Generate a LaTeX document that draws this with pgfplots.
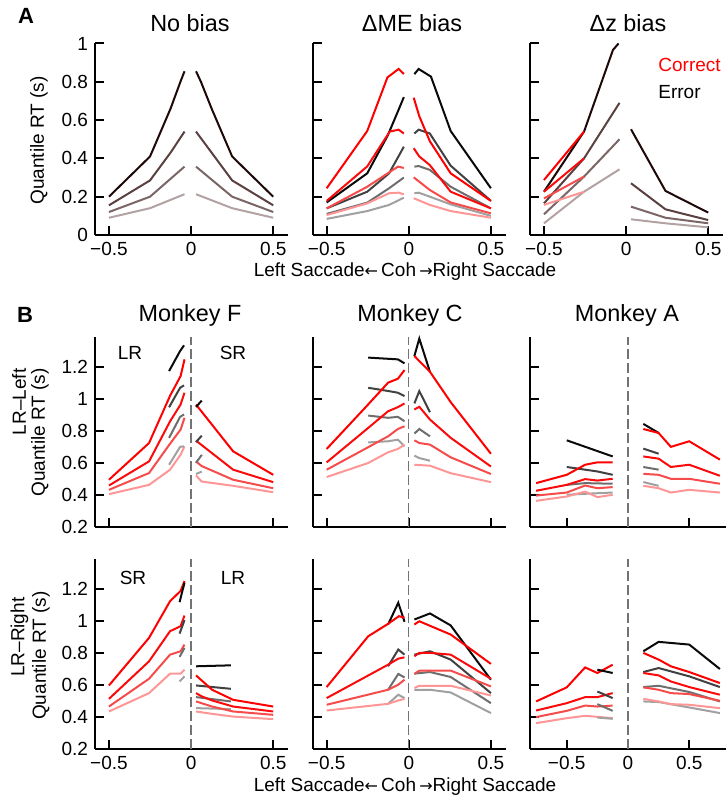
\documentclass[border=0pt]{standalone}
\usepackage{fontspec}
\setmainfont{Liberation Sans}
\newfontfamily\djv{DejaVu Sans}
\usepackage{pgfplots}
\pgfplotsset{compat=1.18}

\definecolor{bq4}{RGB}{30,8,8}
\definecolor{bq3}{RGB}{90,64,64}
\definecolor{bq2}{RGB}{122,102,102}
\definecolor{bq1}{RGB}{178,162,162}
\definecolor{kq4}{RGB}{10,10,10}
\definecolor{kq3}{RGB}{65,65,65}
\definecolor{kq2}{RGB}{110,110,110}
\definecolor{kq1}{RGB}{160,160,160}
\definecolor{rq4}{RGB}{255,0,0}
\definecolor{rq3}{RGB}{250,10,10}
\definecolor{rq2}{RGB}{245,75,75}
\definecolor{rq1}{RGB}{255,150,150}

\newcommand{\tlf}{\fontsize{9.5}{11}\selectfont}
\newcommand{\ttf}{\fontsize{11.7}{13}\selectfont}
\newcommand{\cohlabel}{Left Saccade{\djv\fontsize{8}{9}\selectfont←}\,Coh\,{\djv\fontsize{8}{9}\selectfont→}Right Saccade}

\pgfplotsset{
  panel/.style={scale only axis, axis lines*=left,
    axis line style={line width=1pt,-},
    tick style={line width=1pt,black}, tick align=inside,
    major tick length=4.5pt, tick label style={font=\tlf},
    clip=false, anchor=south west, width=96.5pt},
  Apanel/.style={panel, xmin=-0.585, xmax=0.59, ymin=0, ymax=1, height=95.75pt,
    xtick={-0.5,0,0.5}, xticklabels={−0.5,0,0.5},
    ytick={0,0.2,0.4,0.6,0.8,1}, yticklabels={}},
  Bpanel/.style={panel, xmin=-0.585, xmax=0.59, ymin=0.2, ymax=1.39, height=95pt,
    xtick={-0.5,0,0.5}, xticklabels={},
    ytick={0.2,0.4,0.6,0.8,1,1.2}, yticklabels={}},
  Mpanel/.style={Bpanel, xmin=-0.8, xmax=0.8, width=98pt},
  ylab/.style={yticklabels={0.2,0.4,0.6,0.8,1,1.2}},
  xlab/.style={xticklabels={−0.5,0,0.5}},
  ln/.style={line width=1pt},
  R4/.style={ln,rq4}, R3/.style={ln,rq3}, R2/.style={ln,rq2}, R1/.style={ln,rq1},
  K4/.style={ln,kq4}, K3/.style={ln,kq3}, K2/.style={ln,kq2}, K1/.style={ln,kq1},
  B4/.style={ln,bq4}, B3/.style={ln,bq3}, B2/.style={ln,bq2}, B1/.style={ln,bq1},
  dash0/.style={line width=0.7pt, black!55, dash pattern=on 5pt off 2pt},
}

\begin{document}
\begin{tikzpicture}

% ---------- row A ----------
\begin{axis}[Apanel, at={(47.5pt,282pt)}, yticklabels={0,0.2,0.4,0.6,0.8,1}]
\addplot[B1] coordinates {(-0.5,0.09)(-0.25,0.14)(-0.04,0.213)};
\addplot[B1] coordinates {(0.03,0.213)(0.25,0.14)(0.5,0.09)};
\addplot[B2] coordinates {(-0.5,0.12)(-0.25,0.20)(-0.04,0.357)};
\addplot[B2] coordinates {(0.03,0.357)(0.25,0.20)(0.5,0.12)};
\addplot[B3] coordinates {(-0.5,0.155)(-0.25,0.285)(-0.125,0.43)(-0.04,0.54)};
\addplot[B3] coordinates {(0.03,0.54)(0.125,0.43)(0.25,0.285)(0.5,0.155)};
\addplot[B4] coordinates {(-0.5,0.20)(-0.25,0.41)(-0.125,0.66)(-0.065,0.80)(-0.04,0.855)};
\addplot[B4] coordinates {(0.03,0.855)(0.06,0.80)(0.125,0.66)(0.25,0.41)(0.5,0.20)};
\end{axis}

\begin{axis}[Apanel, at={(156.35pt,282pt)}]
\addplot[K1] coordinates {(-0.5,0.084)(-0.253,0.125)(-0.12,0.157)(-0.03,0.195)};
\addplot[K2] coordinates {(-0.5,0.11)(-0.253,0.169)(-0.12,0.244)(-0.03,0.30)};
\addplot[K3] coordinates {(-0.5,0.139)(-0.253,0.226)(-0.12,0.322)(-0.03,0.461)};
\addplot[K4] coordinates {(-0.5,0.17)(-0.253,0.322)(-0.128,0.52)(-0.064,0.65)(-0.03,0.72)};
\addplot[R1] coordinates {(-0.5,0.104)(-0.253,0.165)(-0.12,0.218)(-0.062,0.221)(-0.03,0.212)};
\addplot[R2] coordinates {(-0.5,0.139)(-0.253,0.252)(-0.066,0.357)(-0.03,0.35)};
\addplot[R3] coordinates {(-0.5,0.178)(-0.253,0.358)(-0.116,0.54)(-0.062,0.55)(-0.03,0.53)};
\addplot[R4] coordinates {(-0.5,0.244)(-0.253,0.543)(-0.13,0.823)(-0.062,0.867)(-0.03,0.841)};
\addplot[K1] coordinates {(0.034,0.218)(0.06,0.221)(0.128,0.2)(0.255,0.16)(0.5,0.10)};
\addplot[K2] coordinates {(0.034,0.357)(0.06,0.36)(0.128,0.34)(0.255,0.252)(0.5,0.139)};
\addplot[K3] coordinates {(0.034,0.53)(0.06,0.55)(0.128,0.53)(0.255,0.362)(0.5,0.178)};
\addplot[K4] coordinates {(0.034,0.84)(0.06,0.867)(0.135,0.827)(0.255,0.543)(0.5,0.244)};
\addplot[R1] coordinates {(0.03,0.192)(0.128,0.157)(0.255,0.125)(0.5,0.09)};
\addplot[R2] coordinates {(0.03,0.301)(0.128,0.235)(0.255,0.17)(0.5,0.113)};
\addplot[R3] coordinates {(0.03,0.453)(0.064,0.41)(0.128,0.365)(0.255,0.226)(0.5,0.139)};
\addplot[R4] coordinates {(0.03,0.717)(0.064,0.62)(0.128,0.49)(0.255,0.322)(0.5,0.178)};
\end{axis}

\begin{axis}[Apanel, at={(265pt,282pt)}]
\addplot[B1] coordinates {(-0.5,0.061)(-0.256,0.226)(-0.04,0.343)};
\addplot[B2] coordinates {(-0.5,0.108)(-0.256,0.305)(-0.04,0.50)};
\addplot[B3] coordinates {(-0.5,0.165)(-0.256,0.40)(-0.04,0.69)};
\addplot[B4] coordinates {(-0.5,0.226)(-0.256,0.54)(-0.08,0.966)(-0.046,1.0)};
\addplot[R1] coordinates {(-0.5,0.157)(-0.256,0.226)};
\addplot[R2] coordinates {(-0.5,0.191)(-0.256,0.305)};
\addplot[R3] coordinates {(-0.5,0.226)(-0.256,0.40)};
\addplot[R4] coordinates {(-0.5,0.287)(-0.256,0.54)};
\addplot[B1] coordinates {(0.03,0.082)(0.24,0.061)(0.5,0.04)};
\addplot[B2] coordinates {(0.03,0.148)(0.24,0.09)(0.5,0.061)};
\addplot[B3] coordinates {(0.03,0.27)(0.24,0.134)(0.5,0.078)};
\addplot[B4] coordinates {(0.03,0.552)(0.24,0.23)(0.5,0.117)};
\end{axis}

% ---------- row B, top ----------
\begin{axis}[Bpanel, ylab, at={(47.5pt,136.15pt)}]
\addplot[dash0] coordinates {(0,0.2)(0,1.39)};
\addplot[R1] coordinates {(-0.5,0.404)(-0.256,0.462)(-0.128,0.557)(-0.064,0.651)(-0.04,0.703)};
\addplot[R2] coordinates {(-0.5,0.431)(-0.256,0.536)(-0.128,0.72)(-0.064,0.808)(-0.04,0.882)};
\addplot[R3] coordinates {(-0.5,0.458)(-0.256,0.609)(-0.128,0.86)(-0.064,0.965)(-0.04,1.039)};
\addplot[R4] coordinates {(-0.5,0.494)(-0.256,0.724)(-0.128,1.02)(-0.064,1.143)(-0.04,1.248)};
\addplot[K1] coordinates {(-0.134,0.588)(-0.067,0.70)(-0.043,0.703)};
\addplot[K2] coordinates {(-0.134,0.756)(-0.067,0.888)(-0.043,0.903)};
\addplot[K3] coordinates {(-0.134,0.948)(-0.067,1.07)(-0.043,1.085)};
\addplot[K4] coordinates {(-0.134,1.175)(-0.067,1.30)(-0.043,1.336)};
\addplot[R1] coordinates {(0.03,0.521)(0.064,0.483)(0.256,0.456)(0.5,0.416)};
\addplot[R2] coordinates {(0.03,0.609)(0.064,0.58)(0.256,0.494)(0.5,0.441)};
\addplot[R3] coordinates {(0.03,0.739)(0.256,0.557)(0.5,0.479)};
\addplot[R4] coordinates {(0.03,0.965)(0.256,0.672)(0.5,0.525)};
\addplot[K1] coordinates {(0.03,0.53)(0.065,0.545)};
\addplot[K2] coordinates {(0.03,0.60)(0.065,0.65)};
\addplot[K3] coordinates {(0.03,0.73)(0.065,0.77)};
\addplot[K4] coordinates {(0.03,0.95)(0.065,0.99)};
\end{axis}

\begin{axis}[Bpanel, at={(156.35pt,136.15pt)}]
\addplot[dash0] coordinates {(0,0.2)(0,1.39)};
\addplot[K1] coordinates {(-0.247,0.728)(-0.126,0.735)(-0.066,0.745)(-0.026,0.703)};
\addplot[K2] coordinates {(-0.247,0.896)(-0.126,0.882)(-0.066,0.888)(-0.026,0.86)};
\addplot[K3] coordinates {(-0.247,1.07)(-0.126,1.05)(-0.066,1.039)(-0.026,1.018)};
\addplot[K4] coordinates {(-0.247,1.259)(-0.066,1.248)(-0.026,1.223)};
\addplot[R1] coordinates {(-0.5,0.511)(-0.247,0.599)(-0.126,0.666)(-0.066,0.687)(-0.026,0.714)};
\addplot[R2] coordinates {(-0.5,0.557)(-0.256,0.693)(-0.126,0.766)(-0.066,0.812)(-0.026,0.829)};
\addplot[R3] coordinates {(-0.5,0.603)(-0.256,0.811)(-0.126,0.923)(-0.066,0.949)(-0.026,0.972)};
\addplot[R4] coordinates {(-0.5,0.687)(-0.256,0.956)(-0.126,1.102)(-0.066,1.127)(-0.026,1.181)};
\addplot[K1] coordinates {(0.034,0.645)(0.064,0.63)(0.129,0.613)};
\addplot[K2] coordinates {(0.034,0.783)(0.064,0.812)(0.129,0.766)};
\addplot[K3] coordinates {(0.034,0.972)(0.064,1.049)(0.129,0.917)};
\addplot[K4] coordinates {(0.034,1.269)(0.064,1.378)(0.129,1.169)};
\addplot[R1] coordinates {(0.034,0.588)(0.129,0.582)(0.256,0.535)(0.5,0.479)};
\addplot[R2] coordinates {(0.034,0.741)(0.064,0.724)(0.129,0.714)(0.256,0.634)(0.5,0.53)};
\addplot[R3] coordinates {(0.034,0.934)(0.064,0.951)(0.129,0.871)(0.256,0.756)(0.5,0.577)};
\addplot[R4] coordinates {(0.034,1.269)(0.129,1.17)(0.256,0.979)(0.5,0.657)};
\end{axis}

\begin{axis}[Mpanel, at={(265pt,136.15pt)}]
\addplot[dash0] coordinates {(0,0.2)(0,1.39)};
\addplot[K1] coordinates {(-0.5,0.40)(-0.35,0.406)(-0.125,0.414)};
\addplot[K2] coordinates {(-0.5,0.462)(-0.35,0.473)(-0.125,0.469)};
\addplot[K3] coordinates {(-0.5,0.574)(-0.25,0.546)(-0.125,0.525)};
\addplot[K4] coordinates {(-0.5,0.741)(-0.125,0.64)};
\addplot[R1] coordinates {(-0.75,0.362)(-0.5,0.389)(-0.35,0.42)(-0.25,0.385)(-0.125,0.40)};
\addplot[R2] coordinates {(-0.75,0.395)(-0.5,0.414)(-0.35,0.458)(-0.25,0.441)(-0.125,0.448)};
\addplot[R3] coordinates {(-0.75,0.425)(-0.5,0.462)(-0.35,0.498)(-0.25,0.489)(-0.125,0.50)};
\addplot[R4] coordinates {(-0.75,0.473)(-0.5,0.525)(-0.35,0.588)(-0.25,0.603)(-0.125,0.603)};
\addplot[K1] coordinates {(0.125,0.48)(0.25,0.456)};
\addplot[K2] coordinates {(0.125,0.574)(0.25,0.557)};
\addplot[K3] coordinates {(0.125,0.689)(0.25,0.657)};
\addplot[K4] coordinates {(0.125,0.844)(0.25,0.787)};
\addplot[R1] coordinates {(0.125,0.456)(0.25,0.441)(0.35,0.414)(0.5,0.431)(0.75,0.414)};
\addplot[R2] coordinates {(0.125,0.531)(0.25,0.525)(0.35,0.50)(0.5,0.50)(0.75,0.469)};
\addplot[R3] coordinates {(0.125,0.64)(0.25,0.626)(0.35,0.574)(0.5,0.588)(0.75,0.519)};
\addplot[R4] coordinates {(0.125,0.812)(0.25,0.787)(0.35,0.70)(0.5,0.735)(0.75,0.62)};
\end{axis}

% ---------- row B, bottom ----------
\begin{axis}[Bpanel, ylab, xlab, at={(47.5pt,25pt)}]
\addplot[dash0] coordinates {(0,0.2)(0,1.39)};
\addplot[R1] coordinates {(-0.5,0.435)(-0.256,0.55)(-0.128,0.672)(-0.064,0.672)(-0.04,0.697)};
\addplot[R2] coordinates {(-0.5,0.466)(-0.256,0.64)(-0.128,0.791)(-0.064,0.812)(-0.04,0.854)};
\addplot[R3] coordinates {(-0.5,0.514)(-0.256,0.749)(-0.128,0.938)(-0.064,0.969)(-0.04,1.036)};
\addplot[R4] coordinates {(-0.5,0.598)(-0.256,0.896)(-0.128,1.126)(-0.064,1.19)(-0.04,1.252)};
\addplot[K1] coordinates {(-0.07,0.623)(-0.04,0.655)};
\addplot[K2] coordinates {(-0.07,0.777)(-0.04,0.833)};
\addplot[K3] coordinates {(-0.07,0.923)(-0.04,1.007)};
\addplot[K4] coordinates {(-0.07,1.12)(-0.04,1.242)};
\addplot[K1] coordinates {(0.03,0.456)(0.242,0.45)};
\addplot[K2] coordinates {(0.03,0.525)(0.242,0.498)};
\addplot[K3] coordinates {(0.03,0.598)(0.242,0.577)};
\addplot[K4] coordinates {(0.03,0.718)(0.242,0.724)};
\addplot[R1] coordinates {(0.03,0.435)(0.128,0.42)(0.256,0.403)(0.5,0.387)};
\addplot[R2] coordinates {(0.03,0.498)(0.128,0.466)(0.256,0.435)(0.5,0.414)};
\addplot[R3] coordinates {(0.03,0.55)(0.064,0.53)(0.128,0.504)(0.256,0.466)(0.5,0.435)};
\addplot[R4] coordinates {(0.03,0.661)(0.128,0.571)(0.256,0.508)(0.5,0.466)};
\end{axis}

\begin{axis}[Bpanel, xlab, at={(156.35pt,25pt)}]
\addplot[dash0] coordinates {(0,0.2)(0,1.39)};
\addplot[K1] coordinates {(-0.126,0.483)(-0.064,0.54)(-0.026,0.519)};
\addplot[K2] coordinates {(-0.126,0.571)(-0.064,0.67)(-0.026,0.648)};
\addplot[K3] coordinates {(-0.126,0.718)(-0.064,0.823)(-0.026,0.791)};
\addplot[K4] coordinates {(-0.126,0.98)(-0.064,1.116)(-0.026,0.997)};
\addplot[R1] coordinates {(-0.5,0.441)(-0.126,0.483)(-0.064,0.504)(-0.026,0.514)};
\addplot[R2] coordinates {(-0.5,0.477)(-0.126,0.571)(-0.064,0.603)(-0.026,0.634)};
\addplot[R3] coordinates {(-0.5,0.519)(-0.126,0.728)(-0.064,0.766)(-0.026,0.774)};
\addplot[R4] coordinates {(-0.5,0.588)(-0.247,0.906)(-0.126,0.984)(-0.06,1.032)(-0.026,1.022)};
\addplot[K1] coordinates {(0.034,0.571)(0.129,0.571)(0.255,0.554)(0.5,0.425)};
\addplot[K2] coordinates {(0.034,0.672)(0.129,0.682)(0.255,0.651)(0.5,0.487)};
\addplot[K3] coordinates {(0.034,0.791)(0.129,0.812)(0.255,0.76)(0.5,0.55)};
\addplot[K4] coordinates {(0.034,1.011)(0.129,1.049)(0.255,0.974)(0.5,0.634)};
\addplot[R1] coordinates {(0.034,0.582)(0.064,0.596)(0.255,0.596)(0.5,0.535)};
\addplot[R2] coordinates {(0.034,0.67)(0.064,0.691)(0.255,0.691)(0.5,0.592)};
\addplot[R3] coordinates {(0.034,0.781)(0.064,0.802)(0.129,0.802)(0.255,0.791)(0.5,0.64)};
\addplot[R4] coordinates {(0.034,0.98)(0.064,1.0)(0.255,0.917)(0.5,0.733)};
\end{axis}

\begin{axis}[Mpanel, at={(265pt,25pt)}, xticklabels={−0.5,0,0.5}]
\addplot[dash0] coordinates {(0,0.2)(0,1.39)};
\addplot[R1] coordinates {(-0.75,0.362)(-0.5,0.393)(-0.35,0.408)(-0.125,0.393)};
\addplot[R2] coordinates {(-0.75,0.40)(-0.5,0.439)(-0.35,0.472)(-0.25,0.466)(-0.125,0.472)};
\addplot[R3] coordinates {(-0.75,0.441)(-0.5,0.487)(-0.35,0.525)(-0.25,0.525)(-0.125,0.55)};
\addplot[R4] coordinates {(-0.75,0.498)(-0.5,0.586)(-0.35,0.711)(-0.25,0.676)(-0.125,0.728)};
\addplot[K1] coordinates {(-0.25,0.397)(-0.125,0.389)};
\addplot[K2] coordinates {(-0.25,0.481)(-0.125,0.439)};
\addplot[K3] coordinates {(-0.25,0.56)(-0.125,0.519)};
\addplot[K4] coordinates {(-0.25,0.697)(-0.125,0.676)};
\addplot[K1] coordinates {(0.125,0.498)(0.25,0.494)(0.5,0.46)(0.75,0.425)};
\addplot[K2] coordinates {(0.125,0.588)(0.25,0.596)(0.5,0.557)(0.75,0.498)};
\addplot[K3] coordinates {(0.125,0.682)(0.25,0.707)(0.5,0.655)(0.75,0.588)};
\addplot[K4] coordinates {(0.125,0.812)(0.25,0.871)(0.5,0.854)(0.75,0.701)};
\addplot[R1] coordinates {(0.125,0.514)(0.25,0.498)(0.35,0.481)(0.5,0.477)(0.75,0.456)};
\addplot[R2] coordinates {(0.125,0.586)(0.25,0.571)(0.35,0.55)(0.5,0.544)(0.75,0.502)};
\addplot[R3] coordinates {(0.125,0.676)(0.25,0.661)(0.35,0.623)(0.5,0.588)(0.75,0.54)};
\addplot[R4] coordinates {(0.125,0.802)(0.25,0.76)(0.35,0.718)(0.5,0.682)(0.75,0.613)};
\end{axis}

% ---------- text ----------
\node[font=\fontsize{11}{12}\selectfont\bfseries] at (13pt,391.5pt) {A};
\node[font=\fontsize{11}{12}\selectfont\bfseries] at (12.5pt,242pt) {B};
\node[font=\ttf] at (95pt,388pt) {No bias};
\node[font=\ttf] at (206pt,388pt) {ΔME bias};
\node[font=\ttf] at (314pt,388pt) {Δz bias};
\node[font=\ttf] at (95pt,242pt) {Monkey F};
\node[font=\ttf] at (205pt,242pt) {Monkey C};
\node[font=\ttf] at (313.5pt,242pt) {Monkey A};
\node[font=\tlf, anchor=west, red, inner sep=0pt] at (329pt,367pt) {Correct};
\node[font=\tlf, anchor=west, inner sep=0pt] at (329pt,353.5pt) {Error};
\node[font=\tlf] at (202.5pt,263.5pt) {\cohlabel};
\node[font=\tlf] at (202.5pt,6pt) {\cohlabel};
\node[font=\tlf, rotate=90] at (19.5pt,329.3pt) {Quantile RT (s)};
\node[font=\tlf, rotate=90] at (9.5pt,198.6pt) {LR–Left};
\node[font=\tlf, rotate=90] at (20pt,183.3pt) {Quantile RT (s)};
\node[font=\tlf, rotate=90] at (9.75pt,80.9pt) {LR–Right};
\node[font=\tlf, rotate=90] at (20.5pt,71.7pt) {Quantile RT (s)};
\node[font=\tlf] at (65pt,223pt) {LR};
\node[font=\tlf] at (116.5pt,223pt) {SR};
\node[font=\tlf] at (66.5pt,110.5pt) {SR};
\node[font=\tlf] at (116.5pt,110.5pt) {LR};

\pgfresetboundingbox
\path (0,0) rectangle (363pt,399.5pt);
\end{tikzpicture}
\end{document}
